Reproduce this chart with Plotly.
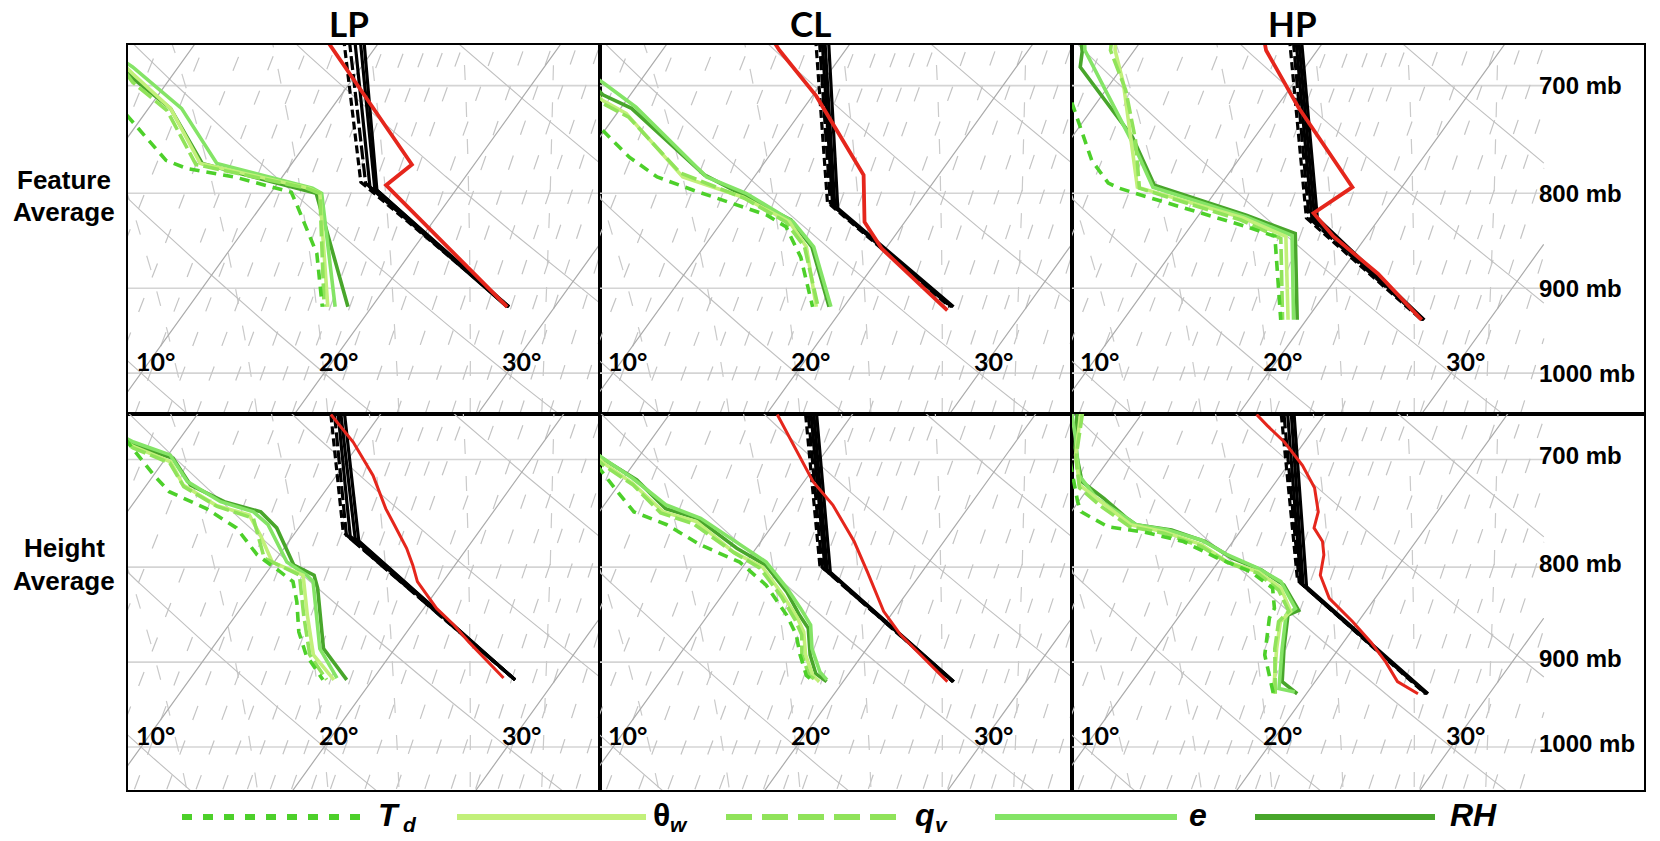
import numpy as np
import plotly.graph_objects as go

# ---------------------------------------------------------------- data
COLUMN_TITLES = ["LP", "CL", "HP"]
ROW_TITLES = [("Feature", "Average"), ("Height", "Average")]
TEMP_LABELS = [10, 20, 30]                 # degC, labelled at 1000 mb
PRESSURE_LABELS = [700, 800, 900, 1000]    # mb

# every profile is a list of (pressure [mb], temperature [degC])
# ---- LP, feature average
LP_FEAT_RED = [(660, 6.9), (772, 16.6), (792, 16.0), (921, 27.4)]
LP_FEAT_BLACK = [
    [(660, 7.9), (789, 14.5), (921, 27.5)],
    [(660, 8.2), (790, 14.8), (921, 27.5)],
    [(660, 8.5), (794, 15.2), (921, 27.4)],
    [(660, 8.8), (795, 15.5), (921, 27.4)],
    [(660, 9.0), (797, 15.7), (921, 27.5)],
]
LP_FEAT_TD = [(660, -7.6), (700, -3.5), (734, -0.2), (768, 3.0), (776, 4.5), (784, 7.4),
              (799, 11.1), (810, 11.8), (862, 14.9), (921, 17.3)]
LP_FEAT_THW = [(660, -5.6), (690, -2.2), (720, 1.2), (771, 5.0), (795, 11.9), (800, 12.7), (921, 17.6)]
LP_FEAT_QV = [(660, -5.4), (697, -1.9), (722, 1.1), (772, 4.8), (795, 11.8), (800, 12.7), (921, 17.4)]
LP_FEAT_E = [(660, -6.0), (684, -2.5), (720, 1.8), (771, 5.9), (795, 12.1), (800, 12.8), (921, 18.0)]
LP_FEAT_RH = [(660, -5.6), (694, -2.0), (720, 1.2), (771, 5.1), (800, 12.5), (921, 18.7)]

# ---- CL, feature average
CL_FEAT_RED = [(660, 5.5), (670, 6.4), (709, 10.2), (782, 15.9), (829, 17.8), (857, 19.8), (925, 25.8)]
CL_FEAT_BLACK = [
    [(660, 7.9), (809, 15.0), (921, 25.8)],
    [(660, 8.1), (810, 15.2), (921, 25.85)],
    [(660, 8.25), (812, 15.4), (921, 25.9)],
    [(660, 8.4), (814, 15.6), (921, 25.95)],
    [(660, 8.6), (815, 15.8), (921, 26.0)],
]
CL_FEAT_TD = [(660, -9.2), (741, 0.0), (765, 2.4), (784, 4.7), (797, 7.2), (810, 9.9),
              (822, 12.2), (834, 13.7), (866, 15.7), (921, 18.3)]
CL_FEAT_THW = [(660, -6.6), (713, -1.3), (724.5, 0.5), (784, 6.1), (804, 10.2), (829, 13.7), (855, 15.6), (921, 18.5)]
CL_FEAT_QV = [(660, -6.5), (716, -1.1), (728, 0.8), (780, 5.8), (805, 10.3), (829, 13.5), (855, 15.5), (921, 18.6)]
CL_FEAT_E = [(660, -7.2), (698, -1.9), (719, 0.8), (784, 7.4), (800, 10.2), (829, 13.9), (855, 16.0), (921, 19.3)]
CL_FEAT_RH = [(660, -6.8), (708, -1.5), (720, 0.6), (782, 7.2), (827, 13.7), (855, 15.9), (921, 19.2)]

# ---- HP, feature average
HP_FEAT_RED = [(660, 6.6), (670, 7.2), (719, 11.2), (794, 17.3), (820, 16.2), (844, 18.2), (884, 22.1), (936, 26.3)]
HP_FEAT_BLACK = [
    [(660, 8.0), (825, 16.0), (936, 26.3)],
    [(660, 8.2), (825, 16.15), (936, 26.35)],
    [(660, 8.35), (825, 16.3), (936, 26.4)],
    [(660, 8.5), (825, 16.45), (936, 26.4)],
    [(660, 8.65), (825, 16.6), (936, 26.45)],
]
HP_FEAT_TD = [(660, -5.1), (728, -0.5), (768, 2.0), (790, 3.8), (795, 4.6), (802, 6.1),
              (834, 13.1), (844, 15.0), (884, 16.6), (936, 18.6)]
HP_FEAT_THW = [(660, -1.5), (670, -1.05), (698, 0.7), (794, 5.55), (825, 12.55), (844, 15.6), (936, 19.0)]
HP_FEAT_QV = [(660, -1.7), (670, -1.3), (704, 1.1), (749, 3.6), (795, 5.7), (827, 12.5), (846, 15.4), (936, 18.7)]
HP_FEAT_E = [(660, -3.2), (670, -2.7), (755, 3.8), (794, 6.4), (824, 12.7), (843, 15.9), (936, 19.3)]
HP_FEAT_RH = [(660, -3.4), (671, -2.8), (684, -2.3), (746, 3.3), (792, 6.4), (822, 12.6), (841, 16.0), (936, 19.5)]

# ---- LP, height average
LP_HGT_RED = [(662, 7.3), (671, 8.2), (685, 9.6), (714, 12.0), (744, 14.0), (759, 15.1), (781.5, 16.7),
              (798, 17.7), (814.5, 18.6), (842, 20.7), (859.5, 22.3), (878, 23.8), (918, 27.1)]
LP_HGT_BLACK = [
    [(662, 7.3), (766, 12.6), (920, 27.8)],
    [(662, 7.5), (769, 12.9), (920, 27.8)],
    [(662, 7.7), (770, 13.15), (920, 27.8)],
    [(662, 7.85), (772, 13.5), (920, 27.8)],
    [(662, 8.05), (774.5, 13.8), (920, 27.8)],
]
LP_HGT_TD = [(660, -5.2), (705, -0.8), (713.6, 0.0), (728.5, 1.5), (744, 4.2), (762, 6.6), (788, 8.8),
             (804.5, 10.7), (814.5, 11.8), (835, 12.8), (867, 14.1), (892, 15.4), (920, 17.3)]
LP_HGT_THW = [(660, -6.8), (689, -2.2), (702, 0.4), (722.5, 2.0), (741, 4.6), (750, 6.8), (769, 8.2),
              (795, 9.9), (808, 12.1), (849, 13.9), (892, 15.8), (920, 17.9)]
LP_HGT_QV = [(660, -6.6), (690, -2.2), (703, 0.4), (724, 2.1), (742, 4.7), (753, 7.15), (791, 9.3),
             (808, 11.9), (849, 13.7), (892, 15.6), (920, 17.5)]
LP_HGT_E = [(660, -7.0), (685, -2.4), (696, 0.1), (719.5, 2.1), (737.6, 4.7), (747, 6.9), (759, 8.2),
            (795, 10.7), (808, 12.3), (814.5, 12.9), (885, 15.9), (918, 18.0)]
LP_HGT_RH = [(660, -6.8), (687.5, -2.3), (699, 0.4), (722.5, 2.4), (737.6, 4.9), (747, 7.3), (762, 8.8),
             (798, 11.2), (808, 12.7), (821, 13.4), (885, 16.1), (920, 18.6)]

# ---- CL, height average
CL_HGT_RED = [(662, 5.9), (668, 6.4), (719.5, 10.5), (740.7, 12.5), (775, 15.1), (804.5, 17.0),
              (845, 19.45), (870, 21.3), (892, 23.2), (922, 25.7)]
CL_HGT_BLACK = [
    [(662, 7.45), (798, 14.15), (922, 26.0)],
    [(662, 7.6), (800, 14.35), (922, 26.0)],
    [(662, 7.75), (801, 14.55), (922, 26.0)],
    [(662, 7.9), (803, 14.75), (922, 26.05)],
    [(662, 8.05), (805, 15.0), (922, 26.05)],
]
CL_HGT_TD = [(660, -6.3), (721, -0.5), (728.5, 0.2), (747, 1.9), (759, 4.2), (778, 6.8), (795, 9.65),
             (818, 12.0), (849, 14.3), (870, 15.6), (892, 16.6), (915, 17.75), (922, 18.4)]
CL_HGT_THW = [(660, -6.8), (703, -1.7), (721, 0.7), (747, 3.5), (756, 5.7), (785, 8.9), (800, 11.1),
              (828, 13.3), (852, 15.0), (867, 15.9), (892, 16.9), (915, 18.1), (922, 18.7)]
CL_HGT_QV = [(660, -6.8), (705, -1.6), (722.5, 0.8), (748, 3.4), (758, 5.6), (786, 9.0), (801, 11.0),
             (830, 13.3), (854, 14.95), (870, 15.9), (892, 16.7), (915, 17.9), (922, 18.65)]
CL_HGT_E = [(660, -7.0), (699, -1.9), (716.5, 0.5), (740.7, 3.4), (753, 5.8), (778, 9.0), (795, 11.1),
            (821, 13.25), (842, 14.8), (859.5, 16.0), (885, 17.0), (911, 18.35), (920, 19.05)]
CL_HGT_RH = [(660, -6.9), (700, -1.8), (718, 0.8), (744, 3.5), (753, 5.6), (781.5, 8.95), (798, 11.2),
             (825, 13.4), (849, 15.0), (863, 16.0), (892, 17.15), (913, 18.2), (922, 19.1)]

# ---- HP, height average
HP_HGT_RED = [(662, 6.3), (671, 7.3), (685, 8.9), (705, 10.8), (725, 12.35), (747, 13.5), (762, 13.9),
              (775, 14.9), (788, 15.5), (808, 16.1), (831.5, 17.5), (856, 19.7), (878, 21.5),
              (900, 23.1), (922, 24.5), (936, 26.1)]
HP_HGT_BLACK = [
    [(662, 7.65), (813, 15.05), (936, 26.5)],
    [(662, 7.8), (814.5, 15.2), (936, 26.55)],
    [(662, 8.0), (816, 15.35), (936, 26.6)],
    [(662, 8.2), (818, 15.55), (936, 26.6)],
    [(662, 8.35), (819.6, 15.8), (936, 26.65)],
]
HP_HGT_TD = [(660, -4.5), (737.6, -0.05), (747, 0.55), (761, 2.6), (766, 4.8), (775, 7.3), (791, 9.8),
             (804.5, 12.15), (821, 14.0), (842, 14.9), (852, 15.0), (892, 16.2), (936, 18.2)]
HP_HGT_THW = [(660, -3.4), (696, -2.0), (722.5, -0.6), (737.6, 1.2), (759, 3.75), (765.6, 5.85),
              (778, 8.4), (795, 10.5), (804.5, 12.55), (821, 14.45), (845, 15.9), (856, 15.75),
              (885, 16.6), (936, 18.2)]
HP_HGT_QV = [(660, -3.3), (699, -1.85), (725, -0.5), (741, 1.3), (761, 3.8), (767, 5.9), (780, 8.5),
             (796, 10.6), (806, 12.6), (823, 14.4), (845, 15.8), (856, 15.65), (885, 16.5), (936, 18.3)]
HP_HGT_E = [(660, -3.9), (682, -2.65), (714, -1.0), (734.5, 0.85), (750, 2.9), (759, 4.05), (764, 6.0),
            (773.5, 8.2), (788, 10.25), (801, 12.4), (814.5, 14.2), (835, 15.6), (842, 16.05),
            (849, 15.8), (885, 16.9), (930, 18.3), (934, 19.3)]
HP_HGT_RH = [(660, -3.6), (690, -2.3), (719.5, -0.6), (734.5, 1.25), (753, 3.3), (759, 4.05), (764, 6.2),
             (775, 8.5), (791, 10.6), (803, 12.7), (818, 14.5), (838.5, 15.9), (844, 16.3),
             (849, 15.9), (885, 17.0), (922, 18.2), (936, 19.5)]

PANELS = [
    dict(red=LP_FEAT_RED, black=LP_FEAT_BLACK, td=LP_FEAT_TD, thw=LP_FEAT_THW, qv=LP_FEAT_QV, e=LP_FEAT_E, rh=LP_FEAT_RH),
    dict(red=CL_FEAT_RED, black=CL_FEAT_BLACK, td=CL_FEAT_TD, thw=CL_FEAT_THW, qv=CL_FEAT_QV, e=CL_FEAT_E, rh=CL_FEAT_RH),
    dict(red=HP_FEAT_RED, black=HP_FEAT_BLACK, td=HP_FEAT_TD, thw=HP_FEAT_THW, qv=HP_FEAT_QV, e=HP_FEAT_E, rh=HP_FEAT_RH),
    dict(red=LP_HGT_RED, black=LP_HGT_BLACK, td=LP_HGT_TD, thw=LP_HGT_THW, qv=LP_HGT_QV, e=LP_HGT_E, rh=LP_HGT_RH),
    dict(red=CL_HGT_RED, black=CL_HGT_BLACK, td=CL_HGT_TD, thw=CL_HGT_THW, qv=CL_HGT_QV, e=CL_HGT_E, rh=CL_HGT_RH),
    dict(red=HP_HGT_RED, black=HP_HGT_BLACK, td=HP_HGT_TD, thw=HP_HGT_THW, qv=HP_HGT_QV, e=HP_HGT_E, rh=HP_HGT_RH),
]

# background thermodynamic reference lines
ISOTHERMS = list(range(-40, 60, 10))
DRY_ADIABATS = list(range(-10, 100, 10))
MOIST_ADIABATS = [4, 8, 12, 16, 20, 24, 28, 32, 36, 40]
MIXING_RATIOS = [2, 2.5, 3, 3.5, 4, 4.5, 5, 6, 7, 8, 9, 10, 11, 12, 13, 14, 15, 16, 18, 20, 22, 24, 26, 28, 30, 33, 36, 40]

# legend: (key, line start px, line end px, main label, main x px, subscript, sub x px, main italic)
LEGEND_ITEMS = [
    ("td", 182, 371, "T", 376, "d", 401, True),
    ("thw", 457, 646, "θ", 651, "w", 668, False),
    ("qv", 726, 905, "q", 913, "v", 933, True),
    ("e", 995, 1177, "e", 1187, "", 0, True),
    ("rh", 1255, 1435, "RH", 1448, "", 0, True),
]

# ---------------------------------------------------------------- styling / geometry
FIG_W, FIG_H = 1660, 841
COL_PX = [(128, 600), (600, 1072), (1072, 1644)]
ROW_PX = [(45, 414), (414, 790)]
ROW_P = [(1052.0, 665.6), (1054.7, 661.6)]
K_SKEW = 31.7
PX_PER_DEG = 18.3
X_LEFT = 9.29
X_SKEW_RIGHT = X_LEFT + 472 / PX_PER_DEG

GREEN_STYLE = {
    "rh": dict(color="#48a62b", dash="solid"),
    "e": dict(color="#84e466", dash="solid"),
    "thw": dict(color="#c2f07a", dash="solid"),
    "qv": dict(color="#90e35a", dash="16px,5px"),
    "td": dict(color="#4dd02a", dash="10px,7px"),
}
BLACK_DASH = ["8px,4px", "14px,4px", "solid", "solid", "solid"]


def skew_x(T, p):
    return np.asarray(T, float) + K_SKEW * np.log(1000.0 / np.asarray(p, float))


def moist_adiabat(tw, ps):
    Rd, Cpd, Lv, eps = 287.04, 1005.7, 2.501e6, 0.622

    def dTdp(T, p):
        tc = T - 273.15
        es = 6.112 * np.exp(17.67 * tc / (tc + 243.5))
        rs = eps * es / (p - es)
        return (Rd * T + Lv * rs) / (p * (Cpd + Lv * Lv * rs * eps / (Rd * T * T)))

    def integrate(p_path):
        T = tw + 273.15
        out = [T]
        for p0, p1 in zip(p_path[:-1], p_path[1:]):
            h = p1 - p0
            k1 = dTdp(T, p0)
            k2 = dTdp(T + 0.5 * h * k1, p0 + 0.5 * h)
            k3 = dTdp(T + 0.5 * h * k2, p0 + 0.5 * h)
            k4 = dTdp(T + h * k3, p1)
            T = T + h * (k1 + 2 * k2 + 2 * k3 + k4) / 6
            out.append(T)
        return np.array(out)

    p_up = np.linspace(1000, 600, 201)
    p_dn = np.linspace(1000, 1100, 51)
    T_up = integrate(p_up)
    T_dn = integrate(p_dn)
    p_all = np.concatenate([p_dn[::-1], p_up[1:]])
    T_all = np.concatenate([T_dn[::-1], T_up[1:]]) - 273.15
    return np.interp(np.log(ps), np.log(p_all[::-1]), T_all[::-1])


def mixing_td(w_gkg, p):
    w = w_gkg / 1000.0
    e = w * p / (0.622 + w)
    lg = np.log(e / 6.112)
    return 243.5 * lg / (17.67 - lg)


P_FINE = np.exp(np.linspace(np.log(1100), np.log(600), 500))


def clipped(xs, ps, xmax):
    ox, op = [], []
    for x, p in zip(xs, ps):
        if x <= xmax:
            ox.append(float(x)); op.append(float(p))
        elif ox and ox[-1] is not None:
            ox.append(None); op.append(None)
    ox.append(None); op.append(None)
    return ox, op


def family(temps_list, xmax):
    X, P = [], []
    for T in temps_list:
        x, p = clipped(skew_x(T, P_FINE), P_FINE, xmax)
        X += x; P += p
    return X, P


BG_ISO_T = family([np.full_like(P_FINE, t) for t in ISOTHERMS], X_SKEW_RIGHT)
BG_DRY = family([(th + 273.15) * (P_FINE / 1000.0) ** 0.2857 - 273.15 for th in DRY_ADIABATS], X_SKEW_RIGHT)
BG_MOIST = family([moist_adiabat(tw, P_FINE) for tw in MOIST_ADIABATS], X_SKEW_RIGHT)
BG_MIX = family([mixing_td(w, P_FINE) for w in MIXING_RATIOS], X_SKEW_RIGHT)
BG_ISOBAR = ([], [])
for pb in PRESSURE_LABELS:
    BG_ISOBAR[0].extend([X_LEFT - 5, X_SKEW_RIGHT, None])
    BG_ISOBAR[1].extend([pb, pb, None])

fig = go.Figure()
layout = dict(
    width=FIG_W, height=FIG_H, margin=dict(l=0, r=0, t=0, b=0),
    paper_bgcolor="white", plot_bgcolor="white", showlegend=False, hovermode=False,
)

annotations = []
for i, panel in enumerate(PANELS):
    r, c = divmod(i, 3)
    n = i + 1
    xa, ya = f"x{n}", f"y{n}"
    x0, x1 = COL_PX[c]
    y0, y1 = ROW_PX[r]
    x_right = X_LEFT + (x1 - x0) / PX_PER_DEG
    pmax, pmin = ROW_P[r]
    axis_common = dict(showgrid=False, zeroline=False, showticklabels=False, ticks="",
                       showline=True, mirror=True, linecolor="black", linewidth=2, fixedrange=True)
    layout[f"xaxis{n}"] = dict(domain=[x0 / FIG_W, x1 / FIG_W], range=[X_LEFT, x_right], anchor=ya, **axis_common)
    layout[f"yaxis{n}"] = dict(domain=[1 - y1 / FIG_H, 1 - y0 / FIG_H], type="log",
                               range=[np.log10(pmax), np.log10(pmin)], anchor=xa, **axis_common)

    def add(xs, ps, color, width, dash="solid"):
        fig.add_trace(go.Scatter(x=xs, y=ps, mode="lines", xaxis=xa, yaxis=ya,
                                 line=dict(color=color, width=width, dash=dash), hoverinfo="skip"))

    # background
    add(*BG_ISOBAR, "#d4d4d4", 1.6)
    add(*BG_MIX, "#c4c4c4", 1.2, "15px,22px")
    add(*BG_MOIST, "#cacaca", 1.2, "15px,22px")
    add(*BG_DRY, "#c0c0c0", 1.1)
    add(*BG_ISO_T, "#ababab", 1.2)

    # dew-point-type profiles
    for key in ["rh", "e", "thw", "qv", "td"]:
        prof = panel[key]
        ps = [p for p, _ in prof]
        xs = list(skew_x([t for _, t in prof], ps))
        st = GREEN_STYLE[key]
        add(xs, ps, st["color"], 3.6, st["dash"])
    # temperature profiles (black)
    for k, prof in enumerate(panel["black"]):
        ps = [p for p, _ in prof]
        xs = list(skew_x([t for _, t in prof], ps))
        add(xs, ps, "black", 3.2, BLACK_DASH[k])
    # red profile
    prof = panel["red"]
    ps = [p for p, _ in prof]
    xs = list(skew_x([t for _, t in prof], ps))
    add(xs, ps, "#e5261c", 3.8 if r == 0 else 3.0)

    # temperature labels at 1000 mb
    for t in TEMP_LABELS:
        annotations.append(dict(x=t, y=3.0, xref=xa, yref=ya, text=f"<b>{t}°</b>", showarrow=False,
                                xanchor="left", yanchor="bottom", xshift=-7, yshift=-5,
                                font=dict(family="Lato", size=25, color="black")))
    # pressure labels on the right panels
    if c == 2:
        for pl in PRESSURE_LABELS:
            annotations.append(dict(x=1537 / FIG_W, y=np.log10(pl), xref="paper", yref=ya,
                                    text=f"<b>{pl} mb</b>", showarrow=False, xanchor="left",
                                    yanchor="middle", yshift=0 if r == 0 else 4,
                                    font=dict(family="Liberation Sans", size=24, color="black")))

# column and row titles
for c, (title, xc) in enumerate(zip(COLUMN_TITLES, [349, 810, 1292])):
    annotations.append(dict(x=xc / FIG_W, y=1 - 23 / FIG_H, xref="paper", yref="paper",
                            text=f"<b>{title}</b>", showarrow=False, xanchor="center", yanchor="middle",
                            font=dict(family="Lato", size=35, color="black")))
for (l1, l2), (ya1, ya2) in zip(ROW_TITLES, [(180, 212), (548, 581)]):
    for txt, yy in ((l1, ya1), (l2, ya2)):
        annotations.append(dict(x=64 / FIG_W, y=1 - yy / FIG_H, xref="paper", yref="paper",
                                text=f"<b>{txt}</b>", showarrow=False, xanchor="center", yanchor="middle",
                                font=dict(family="Liberation Sans", size=26, color="black")))

# legend (drawn below the panels)
shapes = []
ly = 1 - 817 / FIG_H
for key, lx0, lx1, main, mx, sub, sx, ital in LEGEND_ITEMS:
    st = GREEN_STYLE[key]
    dash = {"td": "10px,11px", "qv": "26px,10px"}.get(key, "solid")
    shapes.append(dict(type="line", xref="paper", yref="paper", x0=lx0 / FIG_W, x1=lx1 / FIG_W,
                       y0=ly, y1=ly, line=dict(color=st["color"], width=6, dash=dash)))
    mtxt = f"<b><i>{main}</i></b>" if ital else f"<b>{main}</b>"
    annotations.append(dict(x=mx / FIG_W, y=1 - 815 / FIG_H, xref="paper", yref="paper", text=mtxt,
                            showarrow=False, xanchor="left", yanchor="middle",
                            font=dict(family="Liberation Sans", size=32, color="black")))
    if sub:
        annotations.append(dict(x=sx / FIG_W, y=1 - 824 / FIG_H, xref="paper", yref="paper",
                                text=f"<b><i>{sub}</i></b>", showarrow=False, xanchor="left",
                                yanchor="middle",
                                font=dict(family="Liberation Sans", size=21, color="black")))

layout["annotations"] = annotations
layout["shapes"] = shapes
fig.update_layout(**layout)
fig.write_html("out.html")
